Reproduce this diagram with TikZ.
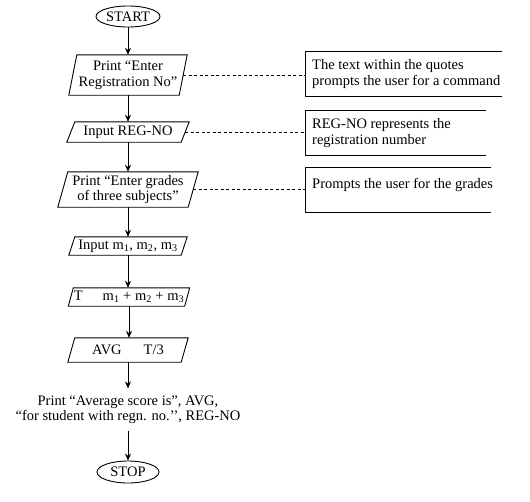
\documentclass[tikz,border=0pt]{standalone}
\usepackage{fontspec}
\setmainfont{Liberation Serif}
\usetikzlibrary{shapes.geometric,arrows.meta,calc}
\newcommand\pgram[2]{\draw[line width=0.9pt] ([xshift=#2]#1.north west) -- (#1.north east) -- ([xshift=-#2]#1.south east) -- (#1.south west) -- cycle;}
\begin{document}
\begin{tikzpicture}[x=1pt,y=-1pt,
  font=\fontsize{14.5}{16}\selectfont,
  term/.style={ellipse,draw,line width=0.9pt,minimum width=64pt,minimum height=21pt,inner sep=0pt},
  io/.style={inner sep=0pt,align=center},
  ann/.style={anchor=west,align=left,inner xsep=7pt,inner ysep=0pt,minimum height=44pt},
  box/.style={line width=1pt},
  arr/.style={line width=0.9pt,-{Stealth[length=7pt,width=6pt]}},
  dsh/.style={line width=0.6pt,dash pattern=on 3pt off 2.5pt}]
\useasboundingbox (0,0) rectangle (530,501);
% flowchart
\node[term] (start) at (128,16.5) {START};
\node[io,minimum width=118pt,minimum height=40pt] (p1) at (128,75) {Print “Enter\\Registration No”};
\node[io,minimum width=122pt,minimum height=20pt] (p2) at (128,132) {Input REG-NO};
\node[io,minimum width=140pt,minimum height=35pt,font=\fontsize{14.5}{15}\selectfont] (p3) at (128,189.5) {Print “Enter grades\\of three subjects”};
\node[io,minimum width=118pt,minimum height=18pt] (p4) at (128,246) {Input m\textsubscript{1}, m\textsubscript{2}, m\textsubscript{3}};
\node[io,minimum width=121pt,minimum height=18pt] (p5) at (129,297) {T\hspace{20pt}m\textsubscript{1} + m\textsubscript{2} + m\textsubscript{3}};
\node[io,minimum width=120pt,minimum height=24pt] (p6) at (128,350) {AVG\hspace{22pt}T/3};
\node[align=center,inner xsep=0pt,inner ysep=7pt,font=\fontsize{14.5}{15}\selectfont] (out) at (128,409.5) {Print “Average score is”, AVG,\\“for student with regn. no.’’, REG-NO};
\node[term,minimum width=62pt,minimum height=22pt] (stop) at (128,472) {STOP};
\pgram{p1}{8pt}
\pgram{p2}{8pt}
\pgram{p3}{10pt}
\pgram{p4}{6pt}
\pgram{p5}{5pt}
\pgram{p6}{7pt}
\foreach \a/\b in {start/p1,p1/p2,p2/p3,p3/p4,p4/p5,p5/p6,p6/out,out/stop}
  \draw[arr] (\a) -- (\a |- \b.north);
% annotations
\node[ann] (a1) at (305,74) {The text within the quotes\\prompts the user for a command};
\node[ann] (a2) at (305,133) {REG-NO represents the\\registration number};
\node[ann] (a3) at (305,190) {\raisebox{5pt}[\height][\depth]{Prompts the user for the grades}};
\draw[box] ([xshift=197pt]a1.north west) -- (a1.north west) -- (a1.south west) -- ([xshift=197pt]a1.south west);
\draw[box] ([xshift=181pt]a2.north west) -- (a2.north west) -- (a2.south west) -- ([xshift=181pt]a2.south west);
\draw[box] ([xshift=186pt]a3.north west) -- (a3.north west) -- (a3.south west) -- ([xshift=186pt]a3.south west);
\draw[dsh] ([xshift=-4pt]p1.east) -- (a1.west |- p1.east);
\draw[dsh] ([xshift=-4pt]p2.east) -- (a2.west |- p2.east);
\draw[dsh] ([xshift=-5pt]p3.east) -- (a3.west |- p3.east);
\end{tikzpicture}
\end{document}
